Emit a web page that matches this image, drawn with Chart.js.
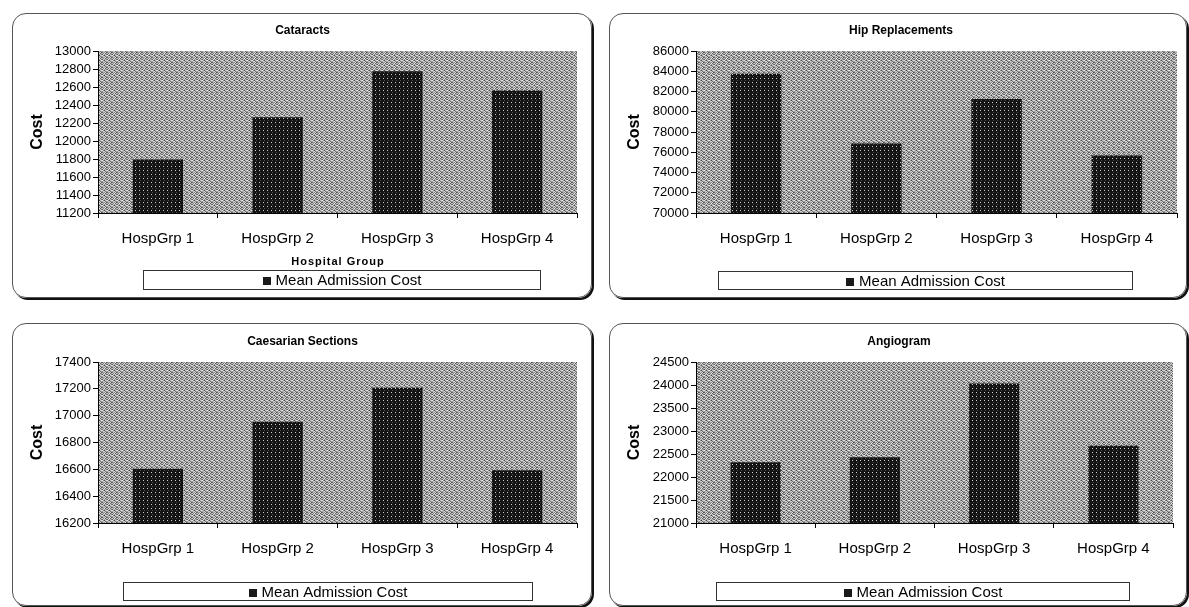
<!DOCTYPE html>
<html>
<head>
<meta charset="utf-8">
<script src="https://cdn.jsdelivr.net/npm/chart.js@4.4.1/dist/chart.umd.min.js"></script>
<style>
    html, body { margin: 0; padding: 0; background: #fff; }
    body { width: 1189px; height: 607px; position: relative; overflow: hidden; }
    .box {
        position: absolute;
        box-sizing: border-box;
        border: 1px solid #555;
        border-radius: 14px;
        box-shadow: 2px 2px 0 #111;
    }
    canvas { position: absolute; }
</style>
</head>
<body>
<div class="box" style="left:12px;top:13px;width:580px;height:285px"></div>
<div class="box" style="left:609px;top:13px;width:578px;height:285px"></div>
<div class="box" style="left:12px;top:323px;width:580px;height:283px"></div>
<div class="box" style="left:609px;top:323px;width:578px;height:283px"></div>
<canvas id="chart-cataracts" width="580" height="285" style="left:12px;top:13px"></canvas>
<canvas id="chart-hip" width="578" height="285" style="left:609px;top:13px"></canvas>
<canvas id="chart-caesarian" width="580" height="283" style="left:12px;top:323px"></canvas>
<canvas id="chart-angiogram" width="578" height="283" style="left:609px;top:323px"></canvas>
<script>
// data
const categories = ["HospGrp 1", "HospGrp 2", "HospGrp 3", "HospGrp 4"];
const seriesName = "Mean Admission Cost";

const cataractCosts = [11795, 12265, 12775, 12560];
const hipCosts = [83750, 76860, 81270, 75680];
const caesarianCosts = [16605, 16955, 17208, 16593];
const angiogramCosts = [22320, 22430, 24035, 22680];

// [min, max, step]
const cataractAxis = [11200, 13000, 200];
const hipAxis = [70000, 86000, 2000];
const caesarianAxis = [16200, 17400, 200];
const angiogramAxis = [21000, 24500, 500];

const FONT = "'Liberation Sans', Arial, sans-serif";


// 디더링 느낌의 패턴
function makePattern(rows) {
    let c = document.createElement("canvas");
    c.width = rows[0].length;
    c.height = rows.length;
    let g = c.getContext("2d");
    let img = g.createImageData(c.width, c.height);
    for (let y = 0; y < rows.length; y++) {
        for (let x = 0; x < rows[y].length; x++) {
            let k = (y * c.width + x) * 4;
            img.data[k] = img.data[k + 1] = img.data[k + 2] = rows[y][x];
            img.data[k + 3] = 255;
        }
    }
    g.putImageData(img, 0, 0);
    return g.createPattern(c, "repeat");
}

const plotPattern = makePattern([
    [0xc8, 0x80, 0xe8, 0x60, 0xb0],
    [0x58, 0xd8, 0x98, 0xc0, 0x78],
    [0xe8, 0x88, 0x48, 0xb8, 0xd8],
    [0x98, 0xc8, 0xd0, 0x70, 0xa0],
    [0x70, 0xb0, 0x90, 0xe0, 0x50]
]);
const barPattern = makePattern([
    [0x10, 0x18, 0x10, 0x14],
    [0x18, 0x10, 0x14, 0xd0],
    [0x10, 0x14, 0x10, 0x18],
    [0x50, 0x10, 0x18, 0x10]
]);


// 회색 플롯 배경, 범례 박스, x축 제목
const panelDeco = {
    id: "panelDeco",
    beforeDraw(chart, args, opts) {
        let a = chart.chartArea;
        let ctx = chart.ctx;
        ctx.save();
        ctx.fillStyle = plotPattern;
        ctx.fillRect(a.left, a.top, a.right - a.left, a.bottom - a.top);
        ctx.restore();
    },
    afterDraw(chart, args, opts) {
        let ctx = chart.ctx;
        ctx.save();
        if (opts.xTitle) {
            ctx.font = "bold 11px " + FONT;
            ctx.letterSpacing = "1px";
            ctx.fillStyle = "#000";
            ctx.textAlign = "center";
            ctx.textBaseline = "middle";
            ctx.fillText(opts.xTitle, opts.xTitleX, opts.xTitleY);
            ctx.letterSpacing = "0px";
        }
        let b = opts.legendBox;
        ctx.fillStyle = "#fff";
        ctx.fillRect(b[0], b[1], b[2] - b[0], b[3] - b[1]);
        ctx.strokeStyle = "#333";
        ctx.lineWidth = 1;
        ctx.strokeRect(b[0] + 0.5, b[1] + 0.5, b[2] - b[0] - 1, b[3] - b[1] - 1);

        ctx.font = "15px " + FONT;
        let label = chart.data.datasets[0].label;
        let tw = ctx.measureText(label).width;
        let total = 8 + 5 + tw;
        let x0 = (b[0] + b[2]) / 2 - total / 2;
        let cy = (b[1] + b[3]) / 2;
        ctx.fillStyle = "#1a1a1a";
        ctx.fillRect(Math.round(x0), Math.round(cy - 3), 8, 8);
        ctx.fillStyle = "#000";
        ctx.textAlign = "left";
        ctx.textBaseline = "middle";
        ctx.fillText(label, x0 + 13, cy + 1);
        ctx.restore();
    }
};


function makeChart(id, title, values, axis, g) {
    return new Chart(document.getElementById(id), {
        type: "bar",
        data: {
            labels: categories,
            datasets: [
                {
                    label: seriesName,
                    data: values,
                    backgroundColor: barPattern,
                    borderWidth: 0,
                    barPercentage: 0.42,
                    categoryPercentage: 1
                }
            ]
        },
        plugins: [panelDeco],
        options: {
            responsive: false,
            animation: false,
            devicePixelRatio: 1,
            layout: { padding: { left: g.padLeft, right: g.padRight, top: 0, bottom: 0 } },
            plugins: {
                legend: { display: false },
                tooltip: { enabled: false },
                title: {
                    display: true,
                    text: title,
                    color: "#000",
                    font: { family: FONT, size: 12, weight: "bold" },
                    padding: { top: g.titleTop, bottom: g.titleBottom }
                },
                panelDeco: {
                    legendBox: g.legendBox,
                    xTitle: g.xTitle,
                    xTitleX: g.xTitleX,
                    xTitleY: g.xTitleY
                }
            },
            scales: {
                x: {
                    offset: true,
                    grid: {
                        offset: true,
                        drawOnChartArea: false,
                        drawTicks: true,
                        tickLength: 5,
                        color: "#000"
                    },
                    border: { display: true, color: "#000", width: 1 },
                    ticks: {
                        color: "#000",
                        padding: 12,
                        maxRotation: 0,
                        font: { family: FONT, size: 15 }
                    },
                    afterFit: function (scale) { scale.height = g.xHeight; }
                },
                y: {
                    min: axis[0],
                    max: axis[1],
                    grid: {
                        drawOnChartArea: false,
                        drawTicks: true,
                        tickLength: 5,
                        color: "#000"
                    },
                    border: { display: true, color: "#000", width: 1 },
                    ticks: {
                        stepSize: axis[2],
                        autoSkip: false,
                        color: "#000",
                        padding: 2,
                        font: { family: FONT, size: 13 },
                        callback: function (v) { return String(v); }
                    },
                    title: {
                        display: true,
                        text: "Cost",
                        color: "#000",
                        font: { family: FONT, size: 16, weight: "bold" },
                        padding: 0
                    },
                    afterFit: function (scale) { scale.width = g.yWidth; }
                }
            }
        }
    });
}


makeChart("chart-cataracts", "Cataracts", cataractCosts, cataractAxis, {
    padLeft: 16, yWidth: 70, padRight: 15,
    titleTop: 10, titleBottom: 13.6, xHeight: 85,
    legendBox: [131, 257, 529, 277],
    xTitle: "Hospital Group", xTitleX: 326, xTitleY: 249
});

makeChart("chart-hip", "Hip Replacements", hipCosts, hipAxis, {
    padLeft: 16, yWidth: 71, padRight: 10,
    titleTop: 10, titleBottom: 13.6, xHeight: 85,
    legendBox: [109, 258, 524, 277]
});

makeChart("chart-caesarian", "Caesarian Sections", caesarianCosts, caesarianAxis, {
    padLeft: 16, yWidth: 70, padRight: 15,
    titleTop: 11, titleBottom: 13.6, xHeight: 83,
    legendBox: [111, 259, 521, 278]
});

makeChart("chart-angiogram", "Angiogram", angiogramCosts, angiogramAxis, {
    padLeft: 16, yWidth: 71, padRight: 14,
    titleTop: 11, titleBottom: 13.6, xHeight: 83,
    legendBox: [107, 259, 521, 278]
});
</script>
</body>
</html>
